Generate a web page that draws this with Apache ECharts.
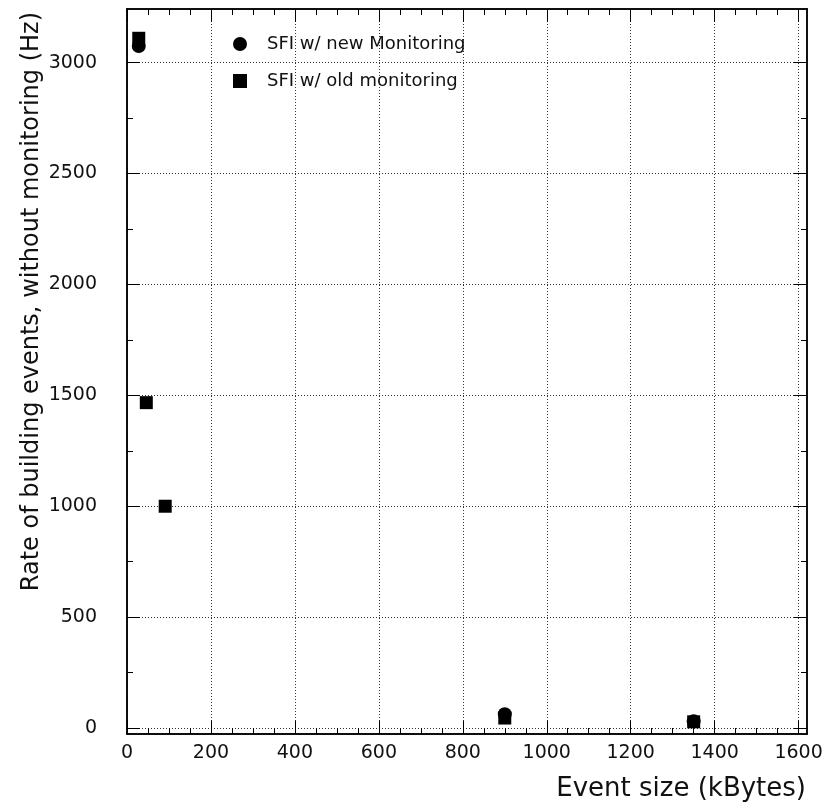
<!DOCTYPE html>
<html>
<head>
<meta charset="utf-8">
<script src="https://cdn.jsdelivr.net/npm/echarts@6/dist/echarts.min.js"></script>
<style>
html,body{margin:0;padding:0;background:#fff}
#chart{width:832px;height:805px}
</style>
</head>
<body>
<div id="chart"></div>
<script>
// data
let newMon = [[28, 3075], [900, 62], [1350, 30]]
let oldMon = [[28, 3110], [46, 1467], [91, 1000], [900, 45], [1350, 28]]

let xMajor = [0, 200, 400, 600, 800, 1000, 1200, 1400, 1600]
let xMinor = [50, 100, 150, 250, 300, 350, 450, 500, 550, 650, 700, 750, 850, 900, 950,
    1050, 1100, 1150, 1250, 1300, 1350, 1450, 1500, 1550]
let yMajor = [0, 500, 1000, 1500, 2000, 2500, 3000]
let yMinor = [250, 750, 1250, 1750, 2250, 2750]

let font = "DejaVu Sans"
let xMin = 0, xMax = 1620
let yMin = -27, yMax = 3242

function xAx(pos, vals, len, labels, grid){
    return {
        type: 'value', position: pos, min: xMin, max: xMax,
        axisLine: {show: true, onZero: false, lineStyle: {color: '#000', width: 1.5}},
        axisTick: {show: true, inside: true, length: len, customValues: vals, lineStyle: {color: '#000', width: 1}},
        axisLabel: {show: labels, customValues: vals, margin: 10, color: '#111', fontFamily: font, fontSize: 19,
            formatter: function(v){ return String(v) }},
        splitLine: {show: grid, lineStyle: {color: '#333', type: [1, 2], width: 1}}
    }
}
function yAx(pos, vals, len, labels, grid){
    return {
        type: 'value', position: pos, min: yMin, max: yMax,
        axisLine: {show: true, onZero: false, lineStyle: {color: '#000', width: 1.5}},
        axisTick: {show: true, inside: true, length: len, customValues: vals, lineStyle: {color: '#000', width: 1}},
        axisLabel: {show: labels, customValues: vals, margin: 30, color: '#111', fontFamily: font, fontSize: 19,
            formatter: function(v){ return String(v) }},
        splitLine: {show: grid, lineStyle: {color: '#333', type: [1, 2], width: 1}}
    }
}

let myChart = echarts.init(document.getElementById('chart'))
let option = {
    animation: false,
    backgroundColor: '#fff',
    grid: {left: 127, right: 25, top: 9, bottom: 71},
    xAxis: [
        xAx('bottom', xMajor, 13, true, true),
        xAx('bottom', xMinor, 6, false, false),
        xAx('top', xMajor, 13, false, false),
        xAx('top', xMinor, 6, false, false)
    ],
    yAxis: [
        yAx('left', yMajor, 13, true, true),
        yAx('left', yMinor, 6, false, false),
        yAx('right', yMajor, 13, false, false),
        yAx('right', yMinor, 6, false, false)
    ],
    legend: {
        orient: 'vertical', left: 228, top: 30, itemGap: 19,
        itemWidth: 14, itemHeight: 14,
        textStyle: {fontFamily: font, fontSize: 18, color: '#111', padding: [0, 0, 0, 15]},
        data: ['SFI w/ new Monitoring', 'SFI w/ old monitoring']
    },
    graphic: [
        {type: 'text', x: 806, y: 789, style: {text: 'Event size (kBytes)', fontFamily: font, fontSize: 26, fill: '#111', align: 'right', verticalAlign: 'middle'}},
        {type: 'text', x: 32, y: 12, rotation: Math.PI / 2, style: {text: 'Rate of building events, without monitoring (Hz)', fontFamily: font, fontSize: 24, fill: '#111', align: 'right', verticalAlign: 'middle'}}
    ],
    series: [
        {name: 'SFI w/ new Monitoring', type: 'scatter', symbol: 'circle', symbolSize: 14, data: newMon, itemStyle: {color: '#000', opacity: 1}},
        {name: 'SFI w/ old monitoring', type: 'scatter', symbol: 'rect', symbolSize: 13, data: oldMon, itemStyle: {color: '#000', opacity: 1}}
    ]
}
myChart.setOption(option)
</script>
</body>
</html>
